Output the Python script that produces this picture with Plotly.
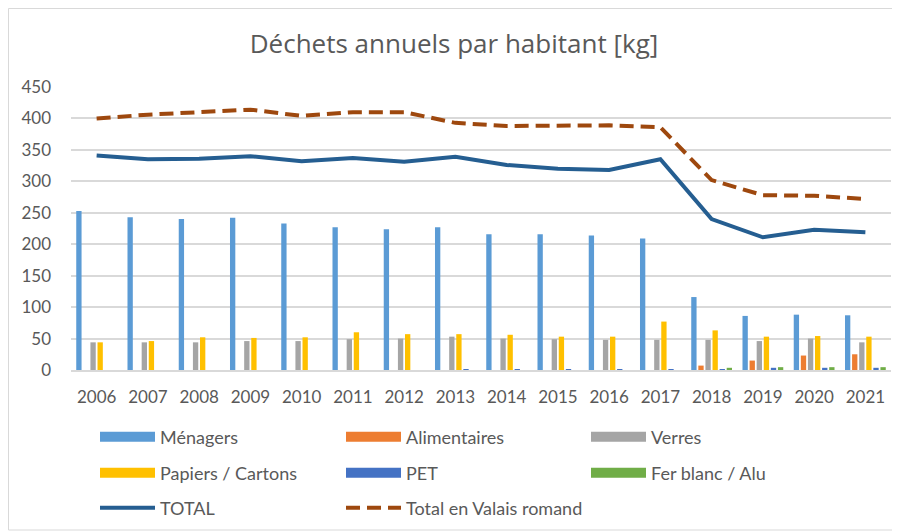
import plotly.graph_objects as go

years = [str(y) for y in range(2006, 2022)]

menagers = [253, 243, 240, 242, 233, 227, 224, 227, 216, 216, 214, 209, 116, 86, 88, 87]
alimentaires = [0, 0, 0, 0, 0, 0, 0, 0, 0, 0, 0, 0, 7, 15, 23, 25]
verres = [44, 44, 44, 46, 46, 49, 50, 53, 50, 49, 48, 48, 48, 46, 50, 44]
papiers = [44, 46, 52, 51, 52, 60, 57, 57, 56, 53, 53, 77, 63, 53, 54, 53]
pet = [0, 0, 0, 0, 0, 0, 0, 1, 1, 1, 1, 1, 1, 3.5, 3.5, 3.5]
fer = [0, 0, 0, 0, 0, 0, 0, 0, 0, 0, 0, 0, 3.5, 4.5, 4.5, 4.5]
total = [341, 335, 336, 340, 332, 337, 331, 339, 326, 320, 318, 335, 240, 211, 223, 219]
valais = [400, 406, 410, 414, 404, 410, 410, 393, 388, 388, 389, 386, 302, 278, 277, 272]

FONT = "Lato"
GRAY = "#595959"

OFF = 8  # page body margin
W, H = 892, 523
ml, mr, mt, mb = 63, 9, 79, 161
pw, ph = W - ml - mr, H - mt - mb

def sx(px):
    return (px - OFF - ml) / pw

def sy(py):
    return (H - mb - (py - OFF)) / ph

# legend slots: text-start x and row centre y (screen pixels)
col_x = [161, 407, 652]
row_y = [437, 473, 508]

fig = go.Figure()

bar_series = [
    ("Ménagers", menagers, "#5B9BD5"),
    ("Alimentaires", alimentaires, "#ED7D31"),
    ("Verres", verres, "#A5A5A5"),
    ("Papiers / Cartons", papiers, "#FFC000"),
    ("PET", pet, "#4472C4"),
    ("Fer blanc / Alu", fer, "#70AD47"),
]

legend_ids = ["legend"] + ["legend%d" % i for i in range(2, 9)]
slots = [(legend_ids[i], col_x[i % 3], row_y[i // 3]) for i in range(8)]

for i, (name, vals, col) in enumerate(bar_series):
    fig.add_trace(go.Bar(x=years, y=vals, name=name, marker_color=col,
                         marker_line_width=0, showlegend=False, legendgroup=name))
    # legend proxy (wide swatch like the original)
    fig.add_trace(go.Scatter(x=[None], y=[None], mode="lines", name=name,
                             line=dict(color=col, width=10), legendgroup=name,
                             legend=slots[i][0], hoverinfo="skip"))

fig.add_trace(go.Scatter(x=years, y=total, name="TOTAL", mode="lines",
                         line=dict(color="#255E91", width=4), legend=slots[6][0]))
fig.add_trace(go.Scatter(x=years, y=valais, name="Total en Valais romand", mode="lines",
                         line=dict(color="#9E480E", width=4, dash="14px,7px"),
                         legend=slots[7][0]))

TEXT_OFF = 66   # legend x -> text start

legends = {}
for lid, tx, ry in slots:
    legends[lid] = dict(orientation="h", xanchor="left", yanchor="middle",
                        x=sx(tx - TEXT_OFF), y=sy(ry),
                        itemwidth=55,
                        font=dict(family=FONT, size=18, color=GRAY),
                        bgcolor="rgba(0,0,0,0)")

fig.update_layout(
    width=W, height=H,
    margin=dict(l=ml, r=mr, t=mt, b=mb, autoexpand=False),
    paper_bgcolor="white", plot_bgcolor="white",
    font=dict(family=FONT, color=GRAY),
    title=dict(text="Déchets annuels par habitant [kg]", x=0.5, xanchor="center",
               y=1 - (44 - OFF) / H, yanchor="middle",
               font=dict(family="Open Sans", size=26, color=GRAY)),
    barmode="group", bargap=0.17, bargroupgap=0.25,
    xaxis=dict(type="category", showgrid=False, ticks="", showline=True,
               linecolor="#D9D9D9", linewidth=1.5, ticklabelstandoff=11,
               tickfont=dict(family=FONT, size=17, color=GRAY)),
    yaxis=dict(range=[0, 450], dtick=50, showgrid=True, gridcolor="#D9D9D9",
               gridwidth=1.5, zeroline=False, showline=False, ticks="",
               tickfont=dict(family=FONT, size=17, color=GRAY), ticklabelstandoff=19),
    shapes=[dict(type="rect", xref="paper", yref="paper",
                 x0=sx(8.5), x1=sx(897), y0=sy(530), y1=sy(8.5),
                 line=dict(color="#D9D9D9", width=1), layer="below")],
    **legends,
)

fig.write_html("out.html")
